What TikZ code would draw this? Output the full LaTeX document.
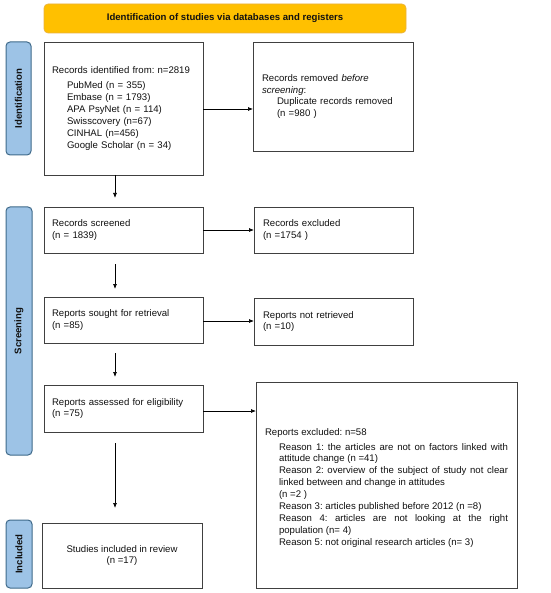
\documentclass[tikz,border=0pt]{standalone}
\usepackage{fontspec}
\setmainfont{Liberation Sans}
\usetikzlibrary{arrows.meta}
\frenchspacing
\definecolor{hdrfill}{HTML}{FFC000}
\definecolor{hdrline}{HTML}{E8B040}
\definecolor{sidefill}{HTML}{9DC3E6}
\definecolor{sideline}{HTML}{3F6A8A}
\definecolor{boxline}{HTML}{404040}
\definecolor{txt}{HTML}{111111}
\begin{document}
\begin{tikzpicture}[x=1pt,y=-1pt,
  font=\fontsize{9.6}{11.9}\selectfont\frenchspacing, text=txt,
  box/.style={draw=boxline, line width=0.9pt, fill=white, inner sep=0pt, outer sep=0pt},
  hdr/.style={draw=hdrline, line width=0.6pt, fill=hdrfill, rounded corners=4pt, inner sep=0pt, font=\fontsize{9.6}{11.9}\selectfont\bfseries},
  side/.style={draw=sideline, line width=1pt, fill=sidefill, rounded corners=4pt, inner sep=0pt},
  sidetxt/.style={rotate=90, font=\fontsize{9.6}{11.9}\selectfont\bfseries},
  arr/.style={-{Latex[length=5pt,width=4pt]}, line width=0.7pt, black},
  lbl/.style={anchor=center, align=left, inner sep=0pt}
]
\useasboundingbox (0,0) rectangle (550,593);
% header
\node[hdr, minimum width=362pt, minimum height=29pt] (hdr) at (225,18.5) {Identification of studies via databases and registers};
% side labels
\node[side, minimum width=25pt, minimum height=113pt] (sid) at (18.5,98.5) {};
\node[sidetxt] (sidt) at (sid.center) {Identification};
\node[side, minimum width=26pt, minimum height=248pt] (sscr) at (19,331) {};
\node[sidetxt] (sscrt) at (sscr.center) {Screening};
\node[side, minimum width=26pt, minimum height=68pt] (sinc) at (19,554) {};
\node[sidetxt] (sinct) at (sinc.center) {Included};
% boxes
\node[box, minimum width=159pt, minimum height=133pt] (b1) at (123.5,108.5) {};
\node[lbl, text width=143pt] (b1t) at (b1.center) {Records identified from: n=2819\\[3pt]
\hspace*{15pt}PubMed (n = 355)\\
\hspace*{15pt}Embase (n = 1793)\\
\hspace*{15pt}APA PsyNet (n = 114)\\
\hspace*{15pt}Swisscovery (n=67)\\
\hspace*{15pt}CINHAL (n=456)\\
\hspace*{15pt}Google Scholar (n = 34)};
\node[box, minimum width=160pt, minimum height=109pt] (b2) at (333,96.5) {};
\node[lbl, text width=142pt] (b2t) at (b2.center) {Records removed \textit{before}\\
\textit{screening}:\\
\hspace*{15pt}Duplicate records removed\\
\hspace*{15pt}(n =980 )};
\node[box, minimum width=159pt, minimum height=46pt] (b3) at (123.5,230) {};
\node[lbl, text width=143pt] (b3t) at (b3.center) {Records screened\\(n = 1839)};
\node[box, minimum width=159pt, minimum height=46pt] (b4) at (333.5,230) {};
\node[lbl, text width=141pt] (b4t) at (b4.center) {Records excluded\\(n =1754 )};
\node[box, minimum width=159pt, minimum height=46pt] (b5) at (123.5,320) {};
\node[lbl, text width=143pt] (b5t) at (b5.center) {Reports sought for retrieval\\(n =85)};
\node[box, minimum width=159pt, minimum height=47pt] (b6) at (333.5,321.5) {};
\node[lbl, text width=141pt] (b6t) at (b6.center) {Reports not retrieved\\(n =10)};
\node[box, minimum width=159pt, minimum height=47pt] (b7) at (123.5,408.5) {};
\node[lbl, text width=143pt] (b7t) at (b7.center) {Reports assessed for eligibility\\(n =75)};
\node[box, minimum width=261pt, minimum height=206pt] (b8) at (386.5,485) {};
\node[anchor=center, inner sep=0pt, text width=243pt, align=justify] (b8t) at (386.5,488) {Reports excluded: n=58\par\vspace{2.5pt}
\leftskip=14pt
Reason 1: the articles are not on factors linked with\linebreak attitude change (n =41)\par
Reason 2: overview of the subject of study not clear\linebreak linked between and change in attitudes\par
(n =2 )\par
Reason 3: articles published before 2012 (n =8)\par
Reason 4: articles are not looking at the right\linebreak population (n= 4)\par
Reason 5: not original research articles (n= 3)\par};
\node[box, minimum width=160pt, minimum height=65pt] (b9) at (122,555.5) {};
\node[anchor=center, align=center, inner sep=0pt] (b9t) at (b9.center) {Studies included in review\\(n =17)};
% arrows
\draw[arr] (b1.east |- 0,109) -- (b2.west |- 0,109);
\draw[arr] (b3.east) -- (b4.west);
\draw[arr] (b5.east |- 0,321) -- (b6.west |- 0,321);
\draw[arr] (b7.east |- 0,411) -- (b8.west |- 0,411);
\coordinate (d1s) at (115,175);
\coordinate (d1e) at (115,198);
\draw[arr] (b1.south -| d1s) -- (d1e);
\coordinate (d2s) at (115,264);
\coordinate (d2e) at (115,289);
\draw[arr] (d2s) -- (d2e);
\coordinate (d3s) at (115,353);
\coordinate (d3e) at (115,377);
\draw[arr] (d3s) -- (d3e);
\coordinate (d4s) at (115,443);
\coordinate (d4e) at (115,508);
\draw[arr] (d4s) -- (d4e);
\end{tikzpicture}
\end{document}
